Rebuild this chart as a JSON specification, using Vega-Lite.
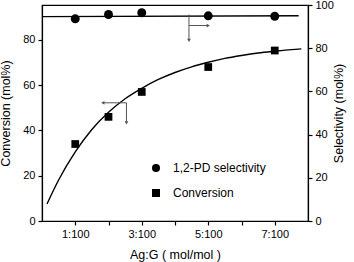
{
  "$schema": "https://vega.github.io/schema/vega-lite/v6.json",
  "width": 266,
  "height": 216,
  "padding": {"left": 42, "top": 5, "right": 46, "bottom": 41},
  "autosize": {"type": "none"},
  "background": "white",
  "config": {
    "font": "Liberation Sans",
    "view": {"stroke": "black", "strokeWidth": 1.2},
    "axis": {"grid": false, "domainColor": "black", "tickColor": "black", "labelColor": "black", "titleColor": "black", "labelFont": "Liberation Sans", "titleFont": "Liberation Sans", "labelFontSize": 11, "titleFontSize": 12.5, "titleFontWeight": "normal", "tickSize": 4, "domainWidth": 1.2, "tickWidth": 1.2}
  },
  "datasets": {
    "curve": [
      {"x": 0.15, "y": 7.5}, {"x": 0.5, "y": 18.1}, {"x": 1, "y": 30.5}, {"x": 1.5, "y": 40.4},
      {"x": 2, "y": 48.0}, {"x": 2.5, "y": 54.0}, {"x": 3, "y": 58.6}, {"x": 3.5, "y": 62.5},
      {"x": 4, "y": 65.6}, {"x": 4.5, "y": 68.1}, {"x": 5, "y": 70.1}, {"x": 5.5, "y": 71.8},
      {"x": 6, "y": 73.1}, {"x": 6.5, "y": 74.2}, {"x": 7, "y": 75.0}, {"x": 7.5, "y": 75.7}, {"x": 7.8, "y": 76.0}
    ],
    "conv": [
      {"x": 1, "y": 34, "series": "Conversion"}, {"x": 2, "y": 46, "series": "Conversion"},
      {"x": 3, "y": 57, "series": "Conversion"}, {"x": 5, "y": 68, "series": "Conversion"},
      {"x": 7, "y": 75.3, "series": "Conversion"}
    ],
    "selline": [{"x": 0, "y": 94.6}, {"x": 7.72, "y": 95.0}],
    "sel": [
      {"x": 1, "y": 93.6, "series": "1,2-PD selectivity"}, {"x": 2, "y": 95.6, "series": "1,2-PD selectivity"},
      {"x": 3, "y": 96.4, "series": "1,2-PD selectivity"}, {"x": 5, "y": 95.0, "series": "1,2-PD selectivity"},
      {"x": 7, "y": 94.8, "series": "1,2-PD selectivity"}
    ],
    "arrowL": [
      {"x": 1.83, "x2": 2.54, "y": 52.2, "y2": 52.2},
      {"x": 2.54, "x2": 2.54, "y": 52.2, "y2": 43.3}
    ],
    "headL": [
      {"x": 1.83, "y": 52.2, "shape": "triangle-left"},
      {"x": 2.54, "y": 43.3, "shape": "triangle-down"}
    ],
    "arrowR": [
      {"x": 4.42, "x2": 5.0, "y": 90.5, "y2": 90.5},
      {"x": 4.42, "x2": 4.42, "y": 95.6, "y2": 83.6}
    ],
    "headR": [
      {"x": 5.0, "y": 90.5, "shape": "triangle-right"},
      {"x": 4.42, "y": 83.6, "shape": "triangle-down"}
    ]
  },
  "encoding": {
    "x": {"field": "x", "type": "quantitative", "scale": {"domain": [0, 8], "nice": false, "zero": false},
      "axis": {"title": "Ag:G ( mol/mol )", "values": [1, 2, 3, 4, 5, 6, 7], "labelExpr": "datum.value % 2 == 1 ? datum.value + ':100' : ''", "labelPadding": 3, "titlePadding": 9}}
  },
  "layer": [
    {
      "encoding": {
        "y": {"field": "y", "type": "quantitative", "scale": {"domain": [0, 95.4], "nice": false},
          "axis": {"title": "Conversion (mol%)", "orient": "left", "values": [0, 20, 40, 60, 80], "titlePadding": 10, "labelPadding": 3}}
      },
      "layer": [
        {"data": {"name": "curve"}, "mark": {"type": "line", "color": "black", "strokeWidth": 1.4, "interpolate": "monotone"}},
        {"data": {"name": "conv"}, "mark": {"type": "point", "filled": true, "opacity": 1, "size": 60, "color": "black"},
          "encoding": {"shape": {"field": "series", "type": "nominal", "scale": {"domain": ["1,2-PD selectivity", "Conversion"], "range": ["circle", "square"]},
            "legend": {"title": null, "orient": "none", "legendX": 108, "legendY": 157, "labelFontSize": 12, "labelFont": "Liberation Sans", "labelColor": "black", "symbolSize": 64, "symbolFillColor": "black", "symbolStrokeColor": "black", "labelOffset": 11, "rowPadding": 11, "padding": 0}}}},
        {"data": {"name": "arrowL"}, "mark": {"type": "rule", "color": "#555", "strokeWidth": 1},
          "encoding": {"x2": {"field": "x2"}, "y2": {"field": "y2"}}},
        {"data": {"name": "headL"}, "mark": {"type": "point", "filled": true, "opacity": 1, "size": 14, "color": "#555"},
          "encoding": {"shape": {"field": "shape", "type": "nominal", "scale": null, "legend": null}}}
      ]
    },
    {
      "encoding": {
        "y": {"field": "y", "type": "quantitative", "scale": {"domain": [0, 100], "nice": false},
          "axis": {"title": "Selectivity (mol%)", "orient": "right", "values": [0, 20, 40, 60, 80, 100], "titleAngle": 270, "titlePadding": 12, "labelPadding": 3}}
      },
      "layer": [
        {"data": {"name": "selline"}, "mark": {"type": "line", "color": "black", "strokeWidth": 1.4}},
        {"data": {"name": "sel"}, "mark": {"type": "point", "filled": true, "opacity": 1, "size": 80, "color": "black"},
          "encoding": {"shape": {"field": "series", "type": "nominal"}}},
        {"data": {"name": "arrowR"}, "mark": {"type": "rule", "color": "#555", "strokeWidth": 1},
          "encoding": {"x2": {"field": "x2"}, "y2": {"field": "y2"}}},
        {"data": {"name": "headR"}, "mark": {"type": "point", "filled": true, "opacity": 1, "size": 14, "color": "#555"},
          "encoding": {"shape": {"field": "shape", "type": "nominal", "scale": null, "legend": null}}}
      ]
    }
  ],
  "resolve": {"scale": {"y": "independent", "shape": "shared"}, "axis": {"y": "independent"}}
}
